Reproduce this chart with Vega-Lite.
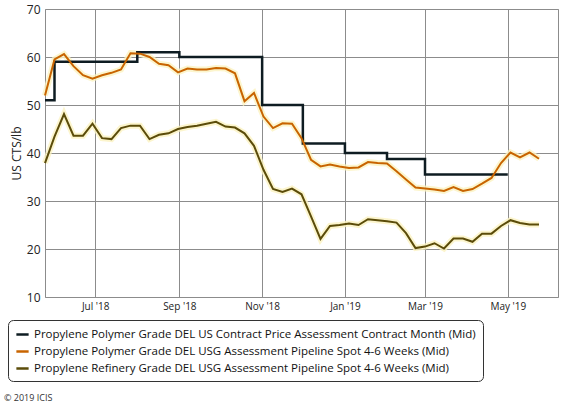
{
  "$schema": "https://vega.github.io/schema/vega-lite/v6.json",
  "width": 513,
  "height": 288,
  "autosize": {"type": "none"},
  "padding": {"left": 45, "top": 9, "right": 18, "bottom": 115},
  "background": "white",
  "config": {
    "font": "Open Sans",
    "view": {"stroke": "#8c8c8c", "strokeWidth": 1}
  },
  "title": {
    "text": "© 2019 ICIS",
    "orient": "bottom",
    "anchor": "start",
    "frame": "group",
    "dx": -41,
    "offset": 12,
    "fontSize": 9,
    "fontWeight": "normal",
    "color": "#333333",
    "font": "Open Sans"
  },
  "datasets": {
    "contract": [
      {"date": "2018-05-25", "series": "contract", "value": 51},
      {"date": "2018-06-01", "series": "contract", "value": 59},
      {"date": "2018-07-01", "series": "contract", "value": 59},
      {"date": "2018-08-01", "series": "contract", "value": 61},
      {"date": "2018-09-01", "series": "contract", "value": 60},
      {"date": "2018-10-01", "series": "contract", "value": 60},
      {"date": "2018-11-01", "series": "contract", "value": 50},
      {"date": "2018-12-01", "series": "contract", "value": 42},
      {"date": "2019-01-01", "series": "contract", "value": 40},
      {"date": "2019-02-01", "series": "contract", "value": 38.75},
      {"date": "2019-03-01", "series": "contract", "value": 35.5},
      {"date": "2019-04-01", "series": "contract", "value": 35.5},
      {"date": "2019-05-01", "series": "contract", "value": 35.5}
    ],
    "spot": [
      {"date": "2018-05-25", "series": "polymer", "value": 52},
      {"date": "2018-06-01", "series": "polymer", "value": 59.5},
      {"date": "2018-06-08", "series": "polymer", "value": 60.6},
      {"date": "2018-06-15", "series": "polymer", "value": 58.1},
      {"date": "2018-06-22", "series": "polymer", "value": 56.2},
      {"date": "2018-06-29", "series": "polymer", "value": 55.5},
      {"date": "2018-07-06", "series": "polymer", "value": 56.2},
      {"date": "2018-07-13", "series": "polymer", "value": 56.7},
      {"date": "2018-07-20", "series": "polymer", "value": 57.4},
      {"date": "2018-07-27", "series": "polymer", "value": 60.8},
      {"date": "2018-08-03", "series": "polymer", "value": 60.7},
      {"date": "2018-08-10", "series": "polymer", "value": 60.0},
      {"date": "2018-08-17", "series": "polymer", "value": 58.6},
      {"date": "2018-08-24", "series": "polymer", "value": 58.3},
      {"date": "2018-08-31", "series": "polymer", "value": 56.8},
      {"date": "2018-09-07", "series": "polymer", "value": 57.6},
      {"date": "2018-09-14", "series": "polymer", "value": 57.4},
      {"date": "2018-09-21", "series": "polymer", "value": 57.4},
      {"date": "2018-09-28", "series": "polymer", "value": 57.7},
      {"date": "2018-10-05", "series": "polymer", "value": 57.6},
      {"date": "2018-10-12", "series": "polymer", "value": 56.6},
      {"date": "2018-10-19", "series": "polymer", "value": 50.8},
      {"date": "2018-10-26", "series": "polymer", "value": 52.5},
      {"date": "2018-11-02", "series": "polymer", "value": 47.6},
      {"date": "2018-11-09", "series": "polymer", "value": 45.2},
      {"date": "2018-11-16", "series": "polymer", "value": 46.2},
      {"date": "2018-11-23", "series": "polymer", "value": 46.1},
      {"date": "2018-11-30", "series": "polymer", "value": 43.1},
      {"date": "2018-12-07", "series": "polymer", "value": 38.6},
      {"date": "2018-12-14", "series": "polymer", "value": 37.2},
      {"date": "2018-12-21", "series": "polymer", "value": 37.6},
      {"date": "2018-12-28", "series": "polymer", "value": 37.2},
      {"date": "2019-01-04", "series": "polymer", "value": 36.9},
      {"date": "2019-01-11", "series": "polymer", "value": 37.0},
      {"date": "2019-01-18", "series": "polymer", "value": 38.1},
      {"date": "2019-01-25", "series": "polymer", "value": 37.9},
      {"date": "2019-02-01", "series": "polymer", "value": 37.8},
      {"date": "2019-02-08", "series": "polymer", "value": 36.2},
      {"date": "2019-02-15", "series": "polymer", "value": 34.5},
      {"date": "2019-02-22", "series": "polymer", "value": 32.8},
      {"date": "2019-03-01", "series": "polymer", "value": 32.6},
      {"date": "2019-03-08", "series": "polymer", "value": 32.4},
      {"date": "2019-03-15", "series": "polymer", "value": 32.1},
      {"date": "2019-03-22", "series": "polymer", "value": 32.9},
      {"date": "2019-03-29", "series": "polymer", "value": 32.1},
      {"date": "2019-04-05", "series": "polymer", "value": 32.5},
      {"date": "2019-04-12", "series": "polymer", "value": 33.6},
      {"date": "2019-04-19", "series": "polymer", "value": 34.8},
      {"date": "2019-04-26", "series": "polymer", "value": 37.9},
      {"date": "2019-05-03", "series": "polymer", "value": 40.1},
      {"date": "2019-05-10", "series": "polymer", "value": 39.1},
      {"date": "2019-05-17", "series": "polymer", "value": 40.1},
      {"date": "2019-05-24", "series": "polymer", "value": 38.8},
      {"date": "2018-05-25", "series": "refinery", "value": 37.9},
      {"date": "2018-06-01", "series": "refinery", "value": 43.4},
      {"date": "2018-06-08", "series": "refinery", "value": 48.1},
      {"date": "2018-06-15", "series": "refinery", "value": 43.6},
      {"date": "2018-06-22", "series": "refinery", "value": 43.6},
      {"date": "2018-06-29", "series": "refinery", "value": 46.1},
      {"date": "2018-07-06", "series": "refinery", "value": 43.1},
      {"date": "2018-07-13", "series": "refinery", "value": 42.9},
      {"date": "2018-07-20", "series": "refinery", "value": 45.2},
      {"date": "2018-07-27", "series": "refinery", "value": 45.7},
      {"date": "2018-08-03", "series": "refinery", "value": 45.7},
      {"date": "2018-08-10", "series": "refinery", "value": 42.9},
      {"date": "2018-08-17", "series": "refinery", "value": 43.8},
      {"date": "2018-08-24", "series": "refinery", "value": 44.1},
      {"date": "2018-08-31", "series": "refinery", "value": 45.0},
      {"date": "2018-09-07", "series": "refinery", "value": 45.4},
      {"date": "2018-09-14", "series": "refinery", "value": 45.7},
      {"date": "2018-09-21", "series": "refinery", "value": 46.1},
      {"date": "2018-09-28", "series": "refinery", "value": 46.5},
      {"date": "2018-10-05", "series": "refinery", "value": 45.5},
      {"date": "2018-10-12", "series": "refinery", "value": 45.3},
      {"date": "2018-10-19", "series": "refinery", "value": 44.1},
      {"date": "2018-10-26", "series": "refinery", "value": 41.5},
      {"date": "2018-11-02", "series": "refinery", "value": 36.5},
      {"date": "2018-11-09", "series": "refinery", "value": 32.5},
      {"date": "2018-11-16", "series": "refinery", "value": 31.9},
      {"date": "2018-11-23", "series": "refinery", "value": 32.6},
      {"date": "2018-11-30", "series": "refinery", "value": 31.4},
      {"date": "2018-12-07", "series": "refinery", "value": 26.8},
      {"date": "2018-12-14", "series": "refinery", "value": 22.1},
      {"date": "2018-12-21", "series": "refinery", "value": 24.8},
      {"date": "2018-12-28", "series": "refinery", "value": 25.0},
      {"date": "2019-01-04", "series": "refinery", "value": 25.3},
      {"date": "2019-01-11", "series": "refinery", "value": 25.0},
      {"date": "2019-01-18", "series": "refinery", "value": 26.2},
      {"date": "2019-01-25", "series": "refinery", "value": 26.0},
      {"date": "2019-02-01", "series": "refinery", "value": 25.8},
      {"date": "2019-02-08", "series": "refinery", "value": 25.5},
      {"date": "2019-02-15", "series": "refinery", "value": 23.3},
      {"date": "2019-02-22", "series": "refinery", "value": 20.2},
      {"date": "2019-03-01", "series": "refinery", "value": 20.5},
      {"date": "2019-03-08", "series": "refinery", "value": 21.2},
      {"date": "2019-03-15", "series": "refinery", "value": 20.1},
      {"date": "2019-03-22", "series": "refinery", "value": 22.2},
      {"date": "2019-03-29", "series": "refinery", "value": 22.2},
      {"date": "2019-04-05", "series": "refinery", "value": 21.5},
      {"date": "2019-04-12", "series": "refinery", "value": 23.2},
      {"date": "2019-04-19", "series": "refinery", "value": 23.2},
      {"date": "2019-04-26", "series": "refinery", "value": 24.8},
      {"date": "2019-05-03", "series": "refinery", "value": 26.0},
      {"date": "2019-05-10", "series": "refinery", "value": 25.4},
      {"date": "2019-05-17", "series": "refinery", "value": 25.1},
      {"date": "2019-05-24", "series": "refinery", "value": 25.1}
    ]
  },
  "encoding": {
    "x": {
      "field": "date",
      "type": "temporal",
      "scale": {
        "type": "utc",
        "domain": [
          {"year": 2018, "month": 5, "date": 25, "utc": true},
          {"year": 2019, "month": 6, "date": 7, "utc": true}
        ]
      },
      "axis": {
        "title": null,
        "labelExpr": "utcFormat(datum.value, \"%b '%y\")",
        "values": [
          {"year": 2018, "month": 7, "date": 1, "utc": true},
          {"year": 2018, "month": 9, "date": 1, "utc": true},
          {"year": 2018, "month": 11, "date": 1, "utc": true},
          {"year": 2019, "month": 1, "date": 1, "utc": true},
          {"year": 2019, "month": 3, "date": 1, "utc": true},
          {"year": 2019, "month": 5, "date": 1, "utc": true}
        ],
        "grid": true,
        "gridColor": "#8c8c8c",
        "gridOpacity": 1,
        "domain": false,
        "ticks": false,
        "labelPadding": 4,
        "labelFontSize": 10,
        "labelColor": "#222222",
        "labelFont": "Open Sans"
      }
    },
    "y": {
      "field": "value",
      "type": "quantitative",
      "scale": {"domain": [10, 70], "nice": false, "zero": false},
      "axis": {
        "title": "US CTS/lb",
        "titleFont": "Open Sans",
        "titleFontSize": 12,
        "titleFontWeight": "normal",
        "titleColor": "#222222",
        "titlePadding": 3,
        "values": [10, 20, 30, 40, 50, 60, 70],
        "grid": true,
        "gridColor": "#8c8c8c",
        "gridOpacity": 1,
        "domain": false,
        "ticks": false,
        "labelPadding": 5,
        "labelFontSize": 12,
        "labelColor": "#222222",
        "labelFont": "Open Sans"
      }
    }
  },
  "layer": [
    {
      "data": {"name": "spot"},
      "mark": {"type": "line", "strokeWidth": 6, "color": "#fbf2c0", "opacity": 0.8},
      "encoding": {"detail": {"field": "series"}}
    },
    {
      "data": {"name": "contract"},
      "mark": {"type": "line", "interpolate": "step-after", "strokeWidth": 2.5},
      "encoding": {
        "color": {"field": "series", "type": "nominal"}
      }
    },
    {
      "data": {"name": "spot"},
      "mark": {"type": "line", "strokeWidth": 2},
      "encoding": {
        "color": {
          "field": "series",
          "type": "nominal",
          "scale": {
            "domain": ["contract", "polymer", "refinery"],
            "range": ["#0e1c22", "#c86400", "#5b4c0a"]
          },
          "legend": {
            "orient": "none",
            "legendX": -37,
            "legendY": 311,
            "direction": "vertical",
            "title": null,
            "symbolType": "stroke",
            "symbolStrokeWidth": 2.5,
            "symbolSize": 150,
            "labelFont": "Open Sans",
            "labelFontSize": 11.5,
            "labelColor": "#111111",
            "labelLimit": 0,
            "strokeColor": "#333333",
            "cornerRadius": 5,
            "fillColor": "white",
            "padding": 7,
            "rowPadding": 4,
            "labelExpr": "datum.label == 'contract' ? 'Propylene Polymer Grade DEL US Contract Price Assessment Contract Month (Mid)' : datum.label == 'polymer' ? 'Propylene Polymer Grade DEL USG Assessment Pipeline Spot 4-6 Weeks (Mid)' : 'Propylene Refinery Grade DEL USG Assessment Pipeline Spot 4-6 Weeks (Mid)'"
          }
        }
      }
    }
  ]
}
